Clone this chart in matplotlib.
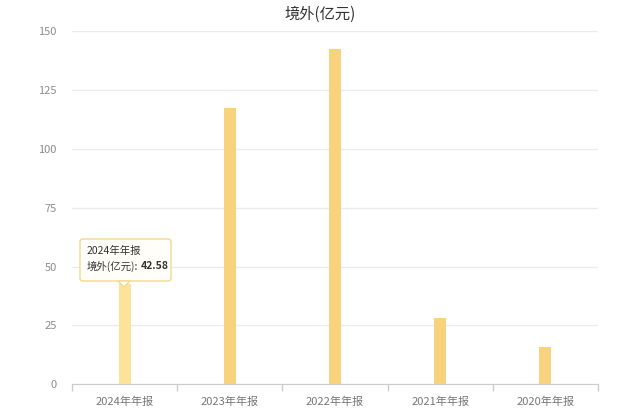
import matplotlib.pyplot as plt
import matplotlib.patches as mpatches

plt.rcParams['font.family'] = ['Noto Sans CJK SC', 'DejaVu Sans']

# data
categories = ['2024年年报', '2023年年报', '2022年年报', '2021年年报', '2020年年报']
values = [42.58, 117.2, 142.3, 28.1, 15.8]
y_ticks = [0, 25, 50, 75, 100, 125, 150]

bar_color = '#F9D27E'
hover_color = '#FBE39A'
grid_color = '#EBEBEB'
label_color = '#8C8C8C'

fig = plt.figure(figsize=(6.4, 4.13), dpi=100)
ax = fig.add_axes([72 / 640, 1 - 384.3 / 413, 526 / 640, 353.3 / 413])

x = list(range(len(categories)))
colors = [hover_color] + [bar_color] * (len(categories) - 1)
ax.bar(x, values, width=0.115, color=colors, zorder=3)

ax.set_xlim(-0.5, len(categories) - 0.5)
ax.set_ylim(0, 150)
ax.set_yticks(y_ticks)
ax.set_yticklabels([str(t) for t in y_ticks])
ax.grid(axis='y', color=grid_color, linewidth=1, zorder=0)

ax.set_xticks(x)
ax.set_xticklabels(categories)
ax.set_xticks([i - 0.5 for i in range(len(categories) + 1)], minor=True)
ax.tick_params(axis='x', which='major', length=0, pad=9, labelsize=8, labelcolor='#777777')
ax.tick_params(axis='x', which='minor', length=5, color='#CCCCCC', width=1)
ax.tick_params(axis='y', length=0, pad=11, labelsize=8, labelcolor=label_color)

for side in ['top', 'right', 'left']:
    ax.spines[side].set_visible(False)
ax.spines['bottom'].set_color('#CCCCCC')

fig.text(0.5, 1 - 14 / 413, '境外(亿元)', ha='center', va='center',
         fontsize=11, color='#333333')

# tooltip over the first bar
box_x0, box_y0, box_w, box_h = 80 / 640, 1 - 281 / 413, 91 / 640, 42 / 413
tip = mpatches.FancyBboxPatch((box_x0, box_y0), box_w, box_h,
                              boxstyle='round,pad=0,rounding_size=0.006',
                              transform=fig.transFigure, facecolor='#FFFEF8',
                              edgecolor='#F1D98E', linewidth=1, zorder=10)
fig.patches.append(tip)
pointer = mpatches.Polygon([(118 / 640, box_y0), (130 / 640, box_y0), (124 / 640, 1 - 287 / 413)],
                           closed=True, transform=fig.transFigure, facecolor='#FFFEF8',
                           edgecolor='#F1D98E', linewidth=1, zorder=11)
fig.patches.append(pointer)
fig.text(87 / 640, 1 - 251 / 413, categories[0], fontsize=7.5, color='#333333',
         va='center', ha='left', zorder=12)
name_txt = fig.text(87 / 640, 1 - 266 / 413, '境外(亿元):', fontsize=7.5, color='#333333',
                    va='center', ha='left', zorder=12)
fig.canvas.draw()
bb = name_txt.get_window_extent(renderer=fig.canvas.get_renderer())
fig.text((bb.x1 + 2) / 640, 1 - 266 / 413, f'{values[0]:.2f}', fontsize=7.5, color='#333333',
         fontweight='bold', va='center', ha='left', zorder=12)

fig.savefig('out.png', dpi=100, facecolor='white')
